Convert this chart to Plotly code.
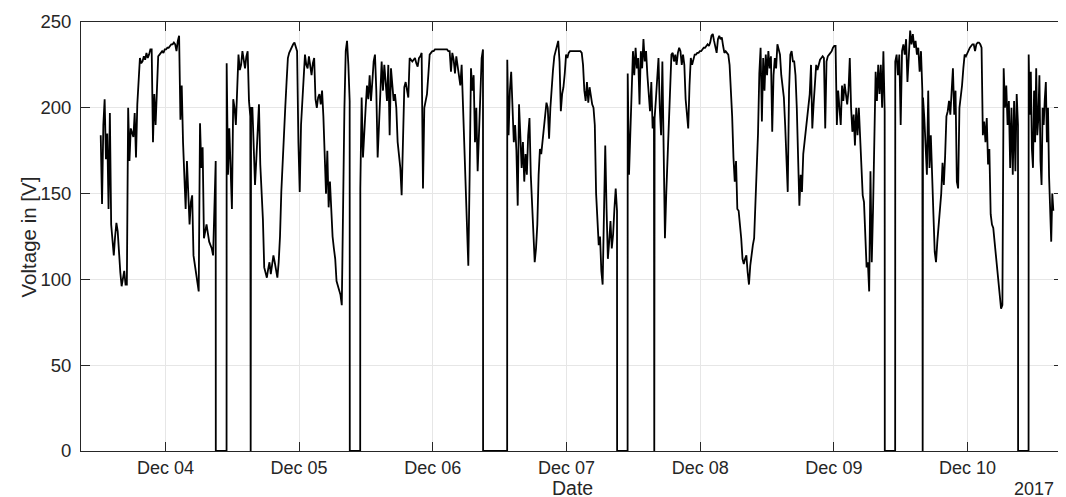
import pandas as pd
import numpy as np
import plotly.graph_objects as go

# voltage log, Dec 03 - Dec 10 2017
# each run of readings is an unbroken stretch, times in hours after 2017-12-03 00:00
base_day = pd.Timestamp("2017-12-03")

seg_start_h = [12.39, 35.00, 39.38, 58.99, 85.37, 106.99, 111.82, 155.02, 160.00, 178.97]
seg_end_h = [33.03, 39.24, 57.08, 81.01, 105.07, 111.70, 153.12, 159.88, 177.05, 183.40]

seg1_v = [184, 144, 190, 205, 170, 185, 141, 197, 132, 120, 114, 125, 133, 128, 112, 104, 96, 100,
          105, 97, 97, 200, 169, 188, 185, 183, 197, 171, 202, 213, 229, 226, 227, 230, 228, 232,
          229, 231, 234, 234, 180, 208, 190, 210, 230, 231, 232, 233, 232, 234, 234, 235, 235, 236,
          237, 237, 238, 237, 233, 239, 242, 193, 213, 180, 157, 141, 169, 145, 132, 145, 149, 114,
          108, 103, 96, 93, 191, 165, 177, 124, 128, 132, 127, 122, 120, 118, 114, 141, 169]
seg2_v = [226, 161, 188, 157, 141, 205, 200, 190, 215, 231, 222, 225, 233, 228, 223, 230, 233, 204, 195]
seg3_v = [200, 200, 175, 155, 170, 190, 202, 167, 150, 135, 107, 104, 101, 106, 110, 103, 108, 114,
          110, 104, 101, 110, 125, 151, 165, 180, 200, 215, 229, 232, 234, 236, 237, 238, 236, 233,
          180, 151, 190, 205, 220, 231, 225, 223, 230, 225, 219, 226, 229, 205, 200,
          206, 208, 202, 210, 195, 170, 150, 175, 142, 157, 138, 125, 118, 112, 99, 96, 93, 91, 85,
          157, 200, 233, 239, 225, 204]
seg4_v = [153, 206, 171, 190, 200, 213, 205, 219, 204, 215, 227, 231, 210, 171, 190, 200, 227, 210,
          225, 215, 204, 225, 184, 223, 210, 204, 208, 200, 180, 170, 165, 149, 180, 212, 215, 210,
          206, 229, 228, 227, 228, 229, 226, 224, 229, 230, 232, 153, 200, 205, 208, 219, 231, 232,
          233, 233, 234, 234, 234, 234, 234, 234, 234,
          234, 234, 234, 233, 233, 221, 232, 228, 220, 230, 225, 218, 213, 225, 200, 171, 145, 132,
          108, 161, 223, 210, 219, 180, 200, 163, 190, 204, 229, 234]
seg5_v = [228, 184, 210, 221, 194, 180, 190, 175, 143, 202, 184, 165, 180, 157, 173, 161, 184, 194,
          161, 141, 122, 110, 118, 132, 161, 176, 173, 180, 186, 195, 203, 200, 182, 200, 213, 222,
          230, 233, 236, 239, 227, 198, 208, 212, 220, 231, 229,
          232, 233, 233, 233, 233, 233, 233, 233, 233, 233, 232, 225, 210, 204, 215, 203, 212, 205,
          202, 200, 190, 150, 130, 120, 125, 105, 97, 151, 178, 141, 112, 122, 134, 118, 126, 141,
          153, 140]
seg6_v = [220, 161, 190, 210, 233, 219, 235, 223, 229, 202, 233, 223, 240, 227, 233, 219, 208, 198, 215, 188, 195]
seg7_v = [194, 205, 219, 229, 200, 184, 227, 178, 124, 150, 171, 190, 210, 231, 232, 227, 231, 225,
          232, 235, 233, 225, 231, 225, 205, 194, 188, 213, 229, 225,
          229, 231, 231, 232, 232, 233, 233, 234, 235, 235, 236, 237, 236, 238, 242, 243, 239, 236,
          232, 240, 242, 240, 241, 236, 232, 233, 232, 231, 225, 210, 195, 171, 157, 169, 141, 140,
          133, 124, 112, 109, 112, 114, 104, 97, 108, 116, 120, 124, 141, 165, 185, 220, 235, 192,
          229, 210, 231, 219, 233, 223, 230, 186, 219, 229, 223, 237, 233, 231, 219, 210, 206, 190,
          169, 151, 210, 231, 233, 227, 227, 219, 200, 176, 143, 161, 151, 173, 180, 188, 196, 202,
          208, 225, 188, 202, 215, 225, 222,
          225, 228, 229, 230, 229, 188, 227, 230, 231, 232, 233, 235, 236, 236, 190, 210, 200, 190,
          213, 204, 214, 208, 202, 210, 229, 200, 186, 196, 178, 200, 184, 200, 180, 171, 149, 145,
          122, 107, 110, 93, 163, 110, 141, 180, 221, 204, 225, 208, 225, 200, 233, 198]
seg8_v = [227, 231, 219, 231, 190, 233, 237, 231, 240, 215, 233, 245, 237, 243, 235, 239, 231, 235, 221, 233, 210]
seg9_v = [206, 194, 180, 161, 210, 165, 184, 155, 138, 116, 110, 122, 132, 138, 150,
          168, 155, 172, 195, 198, 204, 196, 210, 223, 196, 210, 157, 153, 200, 206, 213, 223, 231,
          230, 232, 234, 235, 236, 237, 237, 233, 237, 238, 238, 237, 235, 184, 192, 180, 194, 167,
          176, 138, 132, 130, 122, 114, 107, 95, 87, 83, 85, 223, 200, 213, 190, 204, 165, 200, 161,
          204, 163, 208, 190]
seg10_v = [231, 196, 221, 176, 165, 210, 180, 223, 184, 194, 219, 169, 155, 200, 190, 205, 215, 180,
           200, 160, 140, 122, 150, 140]

# supply outages (logged as 0 V) between the stretches
outage_start_h = [33.05, 39.31, 57.10, 81.03, 105.09, 111.76, 153.14, 159.94, 177.07]
outage_end_h = [34.98, 39.31, 58.97, 85.35, 106.97, 111.76, 155.00, 159.94, 178.95]

tick_days = ["2017-12-04", "2017-12-05", "2017-12-06", "2017-12-07", "2017-12-08", "2017-12-09", "2017-12-10"]
tick_labels = ["Dec 04", "Dec 05", "Dec 06", "Dec 07", "Dec 08", "Dec 09", "Dec 10"]
y_ticks = [0, 50, 100, 150, 200, 250]
x_limits_h = [8.85, 185.13]

segments = [seg1_v, seg2_v, seg3_v, seg4_v, seg5_v, seg6_v, seg7_v, seg8_v, seg9_v, seg10_v]

hours = []
volts = []
for i, vals in enumerate(segments):
    hours.extend(np.linspace(seg_start_h[i], seg_end_h[i], len(vals)))
    volts.extend(vals)
    if i < len(outage_start_h):
        hours.extend([outage_start_h[i], outage_end_h[i]])
        volts.extend([0, 0])

times = base_day + pd.to_timedelta(hours, unit="h")

axis_col = "#262626"
grid_col = "#e6e6e6"
font_family = "Liberation Sans, Arial, sans-serif"

fig = go.Figure()
fig.add_trace(go.Scatter(x=times, y=volts, mode="lines",
                         line=dict(color="black", width=1.8), showlegend=False))

fig.update_layout(
    template="none",
    width=1066, height=497,
    margin=dict(l=73, r=11, t=14, b=54, pad=0),
    plot_bgcolor="white", paper_bgcolor="white",
    font=dict(family=font_family, size=18, color=axis_col),
    xaxis=dict(
        type="date", automargin=False,
        range=[base_day + pd.Timedelta(hours=x_limits_h[0]), base_day + pd.Timedelta(hours=x_limits_h[1])],
        tickvals=pd.to_datetime(tick_days), ticktext=tick_labels,
        ticks="inside", ticklen=9, tickcolor=axis_col, tickwidth=1,
        showline=True, linecolor=axis_col, linewidth=1, mirror="ticks",
        showgrid=True, gridcolor=grid_col, gridwidth=1, zeroline=False,
        ticklabelstandoff=0,
        tickfont=dict(size=18, color=axis_col),
    ),
    yaxis=dict(
        range=[0, 250], tickvals=y_ticks, automargin=False,
        ticks="inside", ticklen=9, tickcolor=axis_col, tickwidth=1,
        showline=True, linecolor=axis_col, linewidth=1, mirror="ticks",
        showgrid=True, gridcolor=grid_col, gridwidth=1, zeroline=False,
        ticklabelstandoff=5,
        tickfont=dict(size=18.5, color=axis_col),
    ),
    annotations=[
        dict(text="Date", xref="paper", yref="paper", x=0.5, y=-0.1142, xanchor="center", yanchor="bottom",
             showarrow=False, borderpad=0, font=dict(size=19.5, color=axis_col)),
        dict(text="Voltage in [V]", xref="paper", yref="paper", x=-0.053, y=0.5, textangle=-90,
             xanchor="center", yanchor="middle", showarrow=False, font=dict(size=20.5, color=axis_col)),
        dict(text="2017", xref="paper", yref="paper", x=0.992, y=-0.1142, xanchor="right", yanchor="bottom",
             showarrow=False, borderpad=0, font=dict(size=18, color=axis_col)),
    ],
)

fig.write_html("out.html")
